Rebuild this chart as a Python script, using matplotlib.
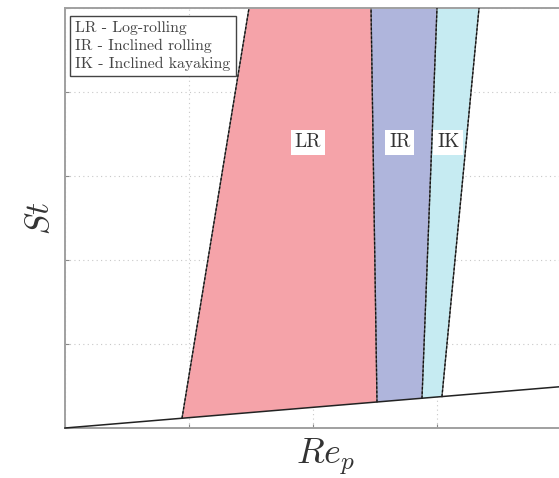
import matplotlib
matplotlib.use("Agg")
import matplotlib.pyplot as plt
from matplotlib.patches import Polygon

plt.rcParams["mathtext.fontset"] = "cm"
plt.rcParams["axes.unicode_minus"] = False

# Regime map in the (Re_p, St) plane
st_top = 5.0
lower_x = [0.0, 4.2]
lower_y = [0.0, 0.517]

# Regime boundaries: (Re at lower bound, St at lower bound), (Re at top, St at top)
lr_left = [(0.944, 0.119), (1.484, st_top)]
lr_ir = [(2.516, 0.310), (2.468, st_top)]
ir_ik = [(2.879, 0.354), (3.000, st_top)]
ik_right = [(3.040, 0.374), (3.339, st_top)]

regions = ["LR", "IR", "IK"]
region_colors = ["#F5A3A9", "#AFB5DC", "#C6EBF2"]
region_label_pos = [(1.96, 3.40), (2.70, 3.40), (3.09, 3.40)]
legend_lines = ["LR - Log-rolling", "IR - Inclined rolling", "IK - Inclined kayaking"]

x_ticks = [0, 1, 2, 3, 4]
y_ticks = [0, 1, 2, 3, 4, 5]

fig = plt.figure(figsize=(5.59, 4.78), dpi=100)
ax = fig.add_axes([65 / 559, 50 / 478, 124 * 4.2 / 559, 420 / 478])
ax.set_xlim(0, 4.2)
ax.set_ylim(0, 5)

bounds = [lr_left, lr_ir, ir_ik, ik_right]
for i, color in enumerate(region_colors):
    a, b = bounds[i], bounds[i + 1]
    poly = Polygon([a[0], b[0], b[1], a[1]], closed=True, facecolor=color,
                   edgecolor="none", zorder=1)
    ax.add_patch(poly)

for bnd in bounds:
    xs = [p[0] for p in bnd]
    ys = [p[1] for p in bnd]
    ax.plot(xs, ys, color="#555555", lw=1.0, zorder=2)
    ax.plot(xs, ys, color="#111111", lw=0.9, ls=(0, (2, 1.5)), zorder=3)

ax.plot(lower_x, lower_y, color="#222222", lw=1.1, zorder=3, clip_on=False)

for name, (x, y) in zip(regions, region_label_pos):
    ax.text(x, y, name, family="cmr10", fontsize=14, color="#333333",
            ha="center", va="center", zorder=5,
            bbox=dict(boxstyle="square,pad=0.2", facecolor="white", edgecolor="none"))

ax.text(0.02, 0.968, "\n".join(legend_lines), transform=ax.transAxes,
        family="cmr10", fontsize=11.3, color="#444444", ha="left", va="top",
        linespacing=1.32, zorder=6,
        bbox=dict(boxstyle="square,pad=0.32", facecolor="white",
                  edgecolor="#444444", linewidth=1.0))

ax.set_xticks(x_ticks)
ax.set_yticks(y_ticks)
ax.set_xticklabels([])
ax.set_yticklabels([])
ax.tick_params(direction="in", length=3, color="#888888", width=0.8)
ax.grid(True, color="#c8c8c8", ls=(0, (1, 3)), lw=0.8)
ax.set_axisbelow(True)
for s in ax.spines.values():
    s.set_color("#a0a0a0")
    s.set_linewidth(1.4)

ax.set_xlabel(r"$Re_p$", fontsize=26, color="#333333", labelpad=3)
ax.set_ylabel(r"$St$", fontsize=24, color="#333333", labelpad=3)

fig.savefig("out.png", dpi=100)
